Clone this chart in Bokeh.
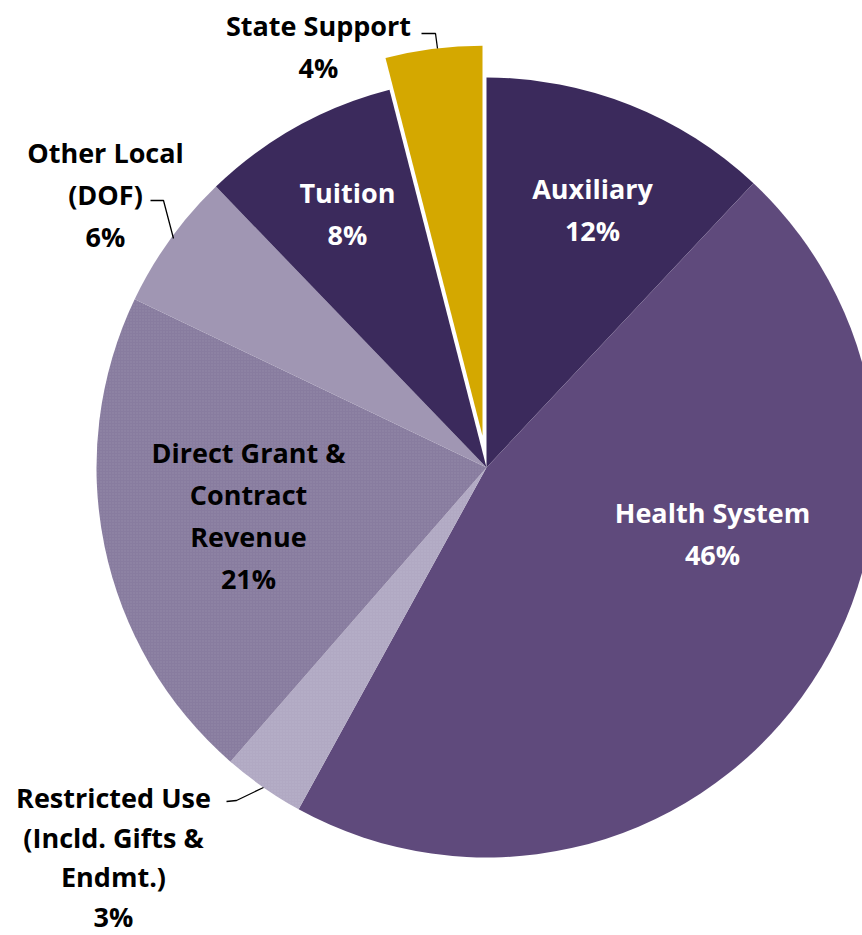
import math
from bokeh.plotting import figure
from bokeh.models import Range1d
from bokeh.core.properties import value
from bokeh.embed import file_html
from bokeh.resources import INLINE

# ---- data ----
categories = ["Auxiliary", "Health System", "Restricted Use (Incld. Gifts & Endmt.)",
              "Direct Grant & Contract Revenue", "Other Local (DOF)", "Tuition", "State Support"]
shares = [12.0, 46.0, 3.4, 20.7, 5.7, 8.2, 4.0]
pct_labels = ["12%", "46%", "3%", "21%", "6%", "8%", "4%"]
label_lines = [["Auxiliary"], ["Health System"], ["Restricted Use", "(Incld. Gifts &", "Endmt.)"],
               ["Direct Grant &", "Contract", "Revenue"], ["Other Local", "(DOF)"], ["Tuition"],
               ["State Support"]]

# ---- style / layout ----
colors = ["#3B2A5C", "#5F4A7C", "#B1A9C3", "#887C9F", "#A096B3", "#3B2A5C", "#D4A800"]
text_colors = ["white", "white", "black", "black", "black", "white", "black"]
textured = [False, False, True, True, False, False, False]
explode = [0, 0, 0, 0, 0, 0, 32]
W, H = 862, 935
cx, cy, R = 486, H - 467, 390
# label first-line centres in screen px
label_pos = [(592, 188), (712, 512), (113, 797), (248, 452), (105, 152), (347, 192), (318, 25)]
line_hs = [42, 42, 39.5, 42, 42, 42, 42]
FONT = "Open Sans"
FS = "27px"
leaders = [
    None, None,
    [(226, 801), (236, 800), (263, 787)],
    None,
    [(150, 200), (163, 200), (173, 238)],
    None,
    [(421, 33), (435, 33), (437, 48)],
]

p = figure(width=W, height=H, output_backend="svg", toolbar_location=None,
           x_range=Range1d(0, W), y_range=Range1d(0, H), min_border=0)
p.axis.visible = False
p.grid.visible = False
p.outline_line_color = None
p.background_fill_color = "white"

total = sum(shares)
cum = 0.0
for i, s in enumerate(shares):
    c0 = cum / total
    c1 = (cum + s) / total
    cum += s
    start = math.pi / 2 - 2 * math.pi * c1
    end = math.pi / 2 - 2 * math.pi * c0
    mid = (start + end) / 2
    ox = cx + explode[i] * math.cos(mid)
    oy = cy + explode[i] * math.sin(mid)
    kw = {}
    if textured[i]:
        kw = dict(hatch_pattern="dot", hatch_color="white", hatch_alpha=0.10,
                  hatch_scale=3, hatch_weight=1)
    p.wedge(x=[ox], y=[oy], radius=R, start_angle=start, end_angle=end,
            direction="anticlock", fill_color=colors[i], line_color=None, **kw)

for i, lines in enumerate(label_lines):
    allines = lines + [pct_labels[i]]
    lx, ly = label_pos[i]
    xs = [lx] * len(allines)
    ys = [H - (ly + k * line_hs[i]) for k in range(len(allines))]
    p.text(x=xs, y=ys, text=allines, text_align="center", text_baseline="middle",
           text_font=value(FONT), text_font_style="bold", text_font_size=FS,
           text_color=text_colors[i])
    if leaders[i]:
        p.line(x=[pt[0] for pt in leaders[i]], y=[H - pt[1] for pt in leaders[i]],
               line_color="black", line_width=1.3)

open("out.html", "w").write(file_html(p, INLINE))
